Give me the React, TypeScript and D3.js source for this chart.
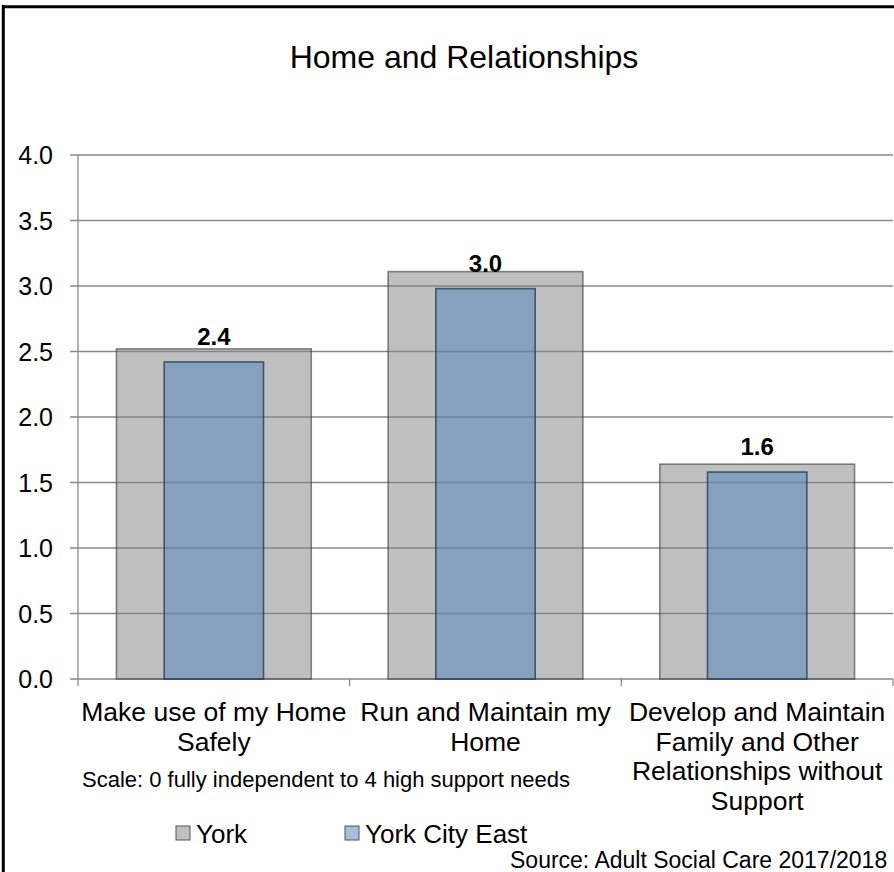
// Externals
import * as d3 from 'd3'
import React from 'react'

// Chart data
const categories = [
  'Make use of my Home Safely',
  'Run and Maintain my Home',
  'Develop and Maintain Family and Other Relationships without Support',
]
const categoryLines = [
  ['Make use of my Home', 'Safely'],
  ['Run and Maintain my', 'Home'],
  ['Develop and Maintain', 'Family and Other', 'Relationships without', 'Support'],
]
const yorkValues = [2.52, 3.11, 1.64]
const cityEastValues = [2.42, 2.98, 1.58]
const yTicks = [0, 0.5, 1, 1.5, 2, 2.5, 3, 3.5, 4]
const seriesNames = ['York', 'York City East']

const FONT = '"Liberation Sans", Arial, sans-serif'
const width = 894
const height = 872
const margin = { top: 155, right: 1, bottom: 193, left: 78 }

const App = () => {
  const x = d3.scaleBand()
    .domain(categories)
    .range([margin.left, width - margin.right])
    .paddingInner(0.283)
    .paddingOuter(0.1415)

  const y = d3.scaleLinear()
    .domain([0, 4])
    .range([height - margin.bottom, margin.top])

  const step = x.step()
  const innerW = x.bandwidth() * 0.51
  const center = (c: string) => (x(c) as number) + x.bandwidth() / 2
  // category tick marks sit between the bands
  const boundaries = d3.range(categories.length + 1).map((i) => margin.left + x.paddingOuter() * step - x.paddingInner() * step / 2 + i * step)

  return (
    <svg
      width={width}
      height={height}
      style={{ position: 'absolute', left: 0, top: 0, background: '#fff' }}
      fontFamily={FONT}
    >
      {/* outer frame */}
      <line x1={3.3} x2={width} y1={6.7} y2={6.7} stroke='#000' strokeWidth={3} />
      <line x1={3.3} x2={3.3} y1={5} y2={height} stroke='#000' strokeWidth={3} />

      <text x={464} y={68} textAnchor='middle' fontSize={32}>Home and Relationships</text>

      {/* gridlines + y labels */}
      {yTicks.map((t) => (
        <g key={t}>
          <line x1={70} x2={width - margin.right} y1={y(t)} y2={y(t)} stroke='#8a8a8a' strokeWidth={1.3} />
          <text x={53} y={y(t)} dy='0.36em' textAnchor='end' fontSize={25}>{t.toFixed(1)}</text>
        </g>
      ))}
      <line x1={margin.left} x2={margin.left} y1={y(4)} y2={y(0)} stroke='#8a8a8a' strokeWidth={1.3} />
      {boundaries.map((b, i) => (
        <line key={i} x1={b} x2={b} y1={y(0)} y2={y(0) + 7} stroke='#8a8a8a' strokeWidth={1.3} />
      ))}

      {/* York bars */}
      {categories.map((c, i) => (
        <rect
          key={'york' + i}
          x={x(c)}
          y={y(yorkValues[i])}
          width={x.bandwidth()}
          height={y(0) - y(yorkValues[i])}
          fill='#808080'
          fillOpacity={0.5}
          stroke='#3a3a3a'
          strokeOpacity={0.6}
          strokeWidth={1.6}
        />
      ))}

      {/* York City East bars */}
      {categories.map((c, i) => (
        <rect
          key={'east' + i}
          x={center(c) - innerW / 2}
          y={y(cityEastValues[i])}
          width={innerW}
          height={y(0) - y(cityEastValues[i])}
          fill='#4F81BD'
          fillOpacity={0.5}
          stroke='#1f3550'
          strokeOpacity={0.75}
          strokeWidth={1.6}
        />
      ))}

      {/* value labels */}
      {categories.map((c, i) => (
        <text key={'lbl' + i} x={center(c)} y={y(cityEastValues[i]) - 17} textAnchor='middle' fontSize={24} fontWeight='bold'>
          {cityEastValues[i].toFixed(1)}
        </text>
      ))}

      {/* category labels */}
      {categories.map((c, i) => (
        <text key={'cat' + i} x={center(c)} y={721} textAnchor='middle' fontSize={26.5}>
          {categoryLines[i].map((line, j) => (
            <tspan key={j} x={center(c)} dy={j === 0 ? 0 : 29.5}>{line}</tspan>
          ))}
        </text>
      ))}

      <text x={82} y={787} fontSize={22}>Scale: 0 fully independent to 4 high support needs</text>

      {/* legend */}
      {seriesNames.map((s, i) => (
        <g key={s} transform={`translate(${[176, 345][i]}, 826)`}>
          <rect
            x={0}
            y={0}
            width={14}
            height={14}
            fill={i === 0 ? '#c0c0c0' : '#a7bfdc'}
            stroke='#555'
            strokeWidth={1}
          />
          <text x={20} y={16.5} fontSize={26}>{s}</text>
        </g>
      ))}

      <text x={510} y={868} fontSize={23}>Source: Adult Social Care 2017/2018</text>
    </svg>
  )
}

export default App
